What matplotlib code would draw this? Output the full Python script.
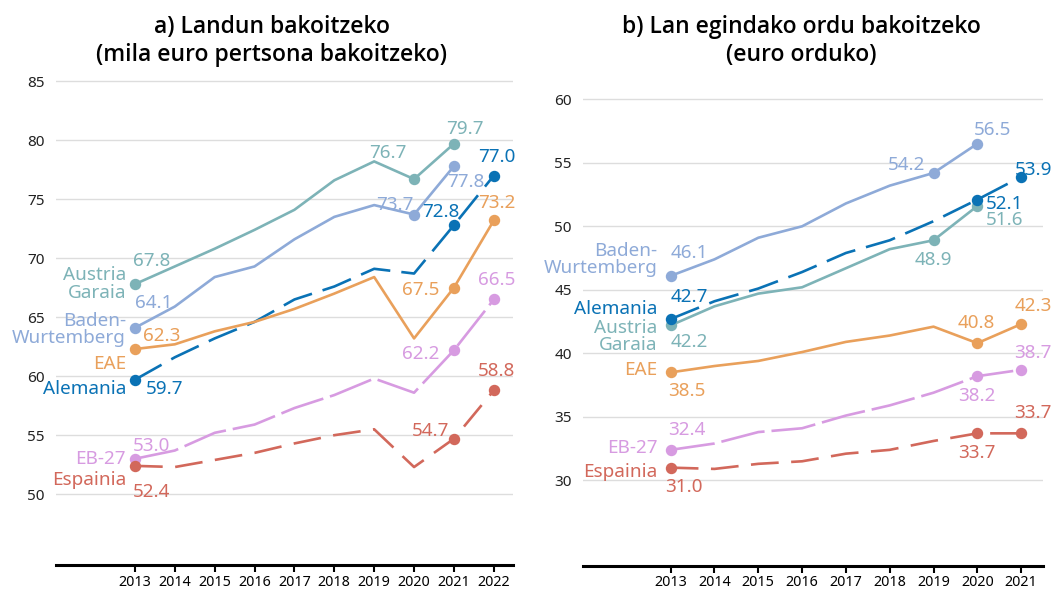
import numpy as np
import matplotlib
matplotlib.use('Agg')
import matplotlib.pyplot as plt

plt.rcParams['font.family'] = ['Noto Sans', 'DejaVu Sans']
plt.rcParams['lines.scale_dashes'] = False

# data: a) per worker (thousand euro), b) per hour worked (euro)
years_a = [2013, 2014, 2015, 2016, 2017, 2018, 2019, 2020, 2021, 2022]
years_b = [2013, 2014, 2015, 2016, 2017, 2018, 2019, 2020, 2021]

nan = np.nan
austria_a = [67.8, 69.3, 70.8, 72.4, 74.1, 76.6, 78.2, 76.7, 79.7, nan]
baden_a = [64.1, 65.9, 68.4, 69.3, 71.6, 73.5, 74.5, 73.7, 77.8, nan]
alemania_a = [59.7, 61.6, 63.2, 64.6, 66.5, 67.6, 69.1, 68.7, 72.8, 77.0]
eae_a = [62.3, 62.7, 63.8, 64.6, 65.7, 67.0, 68.4, 63.2, 67.5, 73.2]
eb27_a = [53.0, 53.7, 55.2, 55.9, 57.3, 58.4, 59.8, 58.6, 62.2, 66.5]
espainia_a = [52.4, 52.3, 52.9, 53.5, 54.3, 55.0, 55.5, 52.3, 54.7, 58.8]

austria_b = [42.2, 43.7, 44.7, 45.2, 46.7, 48.2, 48.9, 51.6, nan]
baden_b = [46.1, 47.4, 49.1, 50.0, 51.8, 53.2, 54.2, 56.5, nan]
alemania_b = [42.7, 44.1, 45.1, 46.4, 47.9, 48.9, 50.4, 52.1, 53.9]
eae_b = [38.5, 39.0, 39.4, 40.1, 40.9, 41.4, 42.1, 40.8, 42.3]
eb27_b = [32.4, 32.9, 33.8, 34.1, 35.1, 35.9, 36.9, 38.2, 38.7]
espainia_b = [31.0, 30.9, 31.3, 31.5, 32.1, 32.4, 33.1, 33.7, 33.7]

names = {'austria': 'Austria\nGaraia', 'baden': 'Baden-\nWurtemberg', 'alemania': 'Alemania',
         'eae': 'EAE', 'eb27': 'EB-27', 'espainia': 'Espainia'}
colors = {'austria': '#7db3b7', 'baden': '#8eaad8', 'alemania': '#0a72b5',
          'eae': '#e9a05b', 'eb27': '#d79be1', 'espainia': '#d2685b'}
dashes = {'austria': None, 'baden': None, 'eae': None,
          'alemania': (22, 8), 'eb27': (32, 5), 'espainia': (20, 9)}

# label layout (pixels): name dy, 2013 value (dx, dy), end labels {index: (dx, dy)}
layout_a = {
    'austria': (0, (-2, -23), {7: (-26, -26), 8: (11, -15)}),
    'baden': (2, (0, -25), {7: (-19, -10), 8: (12, 16)}),
    'alemania': (9, (11, 9), {8: (-13, -13), 9: (3, -19)}),
    'eae': (15, (8, -13), {8: (-33, 2), 9: (3, -17)}),
    'eb27': (0, (-2, -13), {8: (-33, 4), 9: (3, -19)}),
    'espainia': (14, (-2, 26), {8: (-23, -8), 9: (3, -19)}),
}
layout_b = {
    'baden': (-16, (0, -23), {6: (-27, -8), 7: (15, -14)}),
    'alemania': (-10, (0, -22), {7: (27, 4), 8: (12, -7)}),
    'austria': (11, (0, 17), {6: (0, 20), 7: (27, 14)}),
    'eae': (-2, (-3, 19), {7: (-1, -20), 8: (12, -18)}),
    'eb27': (-2, (-3, -20), {7: (-1, 20), 8: (12, -17)}),
    'espainia': (4, (-6, 19), {7: (-1, 20), 8: (12, -20)}),
}

series_a = {'austria': austria_a, 'baden': baden_a, 'alemania': alemania_a,
            'eae': eae_a, 'eb27': eb27_a, 'espainia': espainia_a}
series_b = {'austria': austria_b, 'baden': baden_b, 'alemania': alemania_b,
            'eae': eae_b, 'eb27': eb27_b, 'espainia': espainia_b}

P = 0.72  # px -> pt
FS = 13.6

fig = plt.figure(figsize=(10.64, 5.9), dpi=100)
ax_a = fig.add_axes([0.0526, 0.0424, 0.4295, 0.840])
ax_b = fig.add_axes([0.548, 0.0412, 0.4323, 0.8228])


def draw(ax, years, series, layout, name_dx):
    for key, vals in series.items():
        c = colors[key]
        ln, = ax.plot(years, vals, color=c, lw=1.9, zorder=3, solid_capstyle='butt')
        if dashes[key]:
            ln.set_dashes(dashes[key])
        name_dy, (vdx, vdy), ends = layout[key]
        pts = [0] + list(ends.keys())
        ax.plot([years[i] for i in pts], [vals[i] for i in pts], 'o', color=c, ms=7.2, zorder=4)
        ax.annotate(names[key], (years[0], vals[0]), xytext=(name_dx * P, -name_dy * P),
                    textcoords='offset points', ha='right', va='center', color=c,
                    fontsize=FS, linespacing=0.95)
        ax.annotate(f'{vals[0]:.1f}', (years[0], vals[0]), xytext=(vdx * P, -vdy * P),
                    textcoords='offset points', ha='left', va='center', color=c, fontsize=FS)
        for i, (dx, dy) in ends.items():
            ax.annotate(f'{vals[i]:.1f}', (years[i], vals[i]), xytext=(dx * P, -dy * P),
                        textcoords='offset points', ha='center', va='center', color=c,
                        fontsize=FS, annotation_clip=False)
    for s in ['top', 'left', 'right']:
        ax.spines[s].set_visible(False)
    ax.spines['bottom'].set_linewidth(2.2)
    ax.set_xticks(years)
    ax.tick_params(axis='x', length=5, width=1.5, pad=2, labelsize=10.3)
    ax.tick_params(axis='y', length=0, pad=8, labelsize=11, labelcolor='#222222')
    ax.grid(axis='y', color='#dddddd', lw=1, zorder=0)
    ax.set_axisbelow(True)


draw(ax_a, years_a, series_a, layout_a, -9)
draw(ax_b, years_b, series_b, layout_b, -13)

ax_a.set_xlim(2011.02, 2022.48)
ax_a.set_ylim(44, 86)
ax_a.set_yticks([50, 55, 60, 65, 70, 75, 80, 85])
ax_b.set_xlim(2011.0, 2021.5)
ax_b.set_ylim(23.28, 61.5)
ax_b.set_yticks([30, 35, 40, 45, 50, 55, 60])

title_font = ['Open Sans', 'Noto Sans', 'DejaVu Sans']
fig.text(272 / 1064, 1 - 41 / 590, 'a) Landun bakoitzeko\n(mila euro pertsona bakoitzeko)',
         ha='center', va='center', fontsize=16.5, fontweight='semibold', family=title_font,
         linespacing=1.25)
fig.text(801 / 1064, 1 - 41 / 590, 'b) Lan egindako ordu bakoitzeko\n(euro orduko)',
         ha='center', va='center', fontsize=16.5, fontweight='semibold', family=title_font,
         linespacing=1.25)

fig.savefig('out.png', dpi=100)
